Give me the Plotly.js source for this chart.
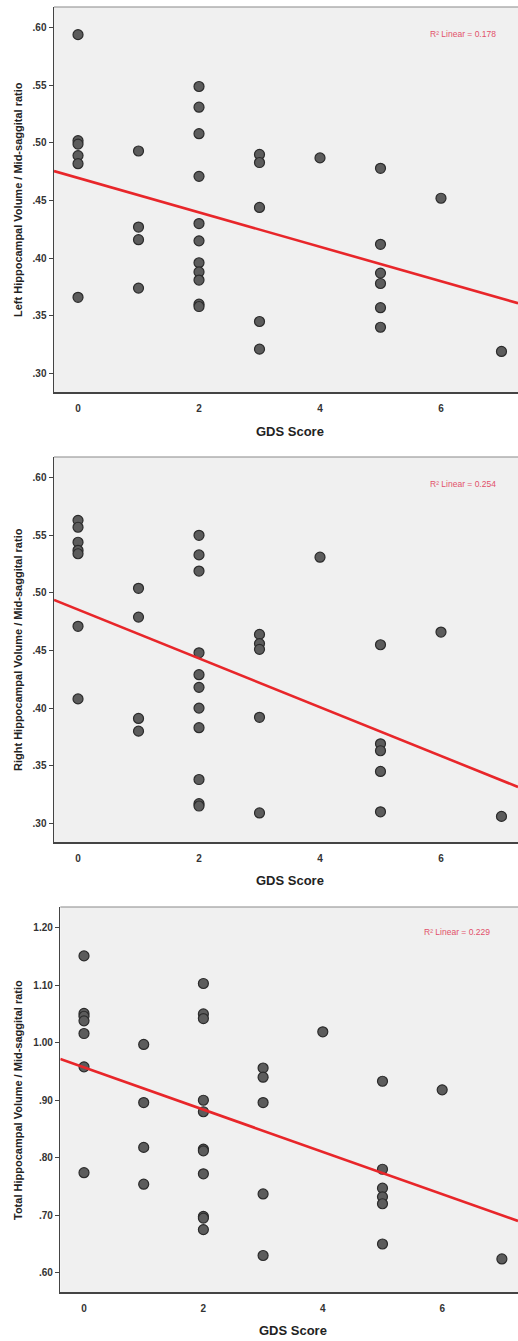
<!DOCTYPE html>
<html>
<head>
<meta charset="utf-8">
<script src="https://cdn.plot.ly/plotly-3.0.1.min.js"></script>
<style>
html,body{margin:0;padding:0;background:#fff;}
#chart{width:518px;height:1341px;}
</style>
</head>
<body>
<div id="chart"></div>
<script>
// GDS scores (x) shared structure
const leftX  = [0,0,0,0,0,0, 1,1,1,1, 2,2,2,2,2,2,2,2,2,2,2, 3,3,3,3,3, 4, 5,5,5,5,5,5, 6, 7];
const leftY  = [0.594,0.502,0.499,0.489,0.482,0.366,
                0.493,0.427,0.416,0.374,
                0.549,0.531,0.508,0.471,0.430,0.415,0.396,0.388,0.381,0.360,0.358,
                0.490,0.483,0.444,0.345,0.321,
                0.487,
                0.478,0.412,0.387,0.378,0.357,0.340,
                0.452,
                0.319];
const rightX = [0,0,0,0,0,0,0, 1,1,1,1, 2,2,2,2,2,2,2,2,2,2,2, 3,3,3,3,3, 4, 5,5,5,5,5, 6, 7];
const rightY = [0.563,0.557,0.544,0.537,0.534,0.471,0.408,
                0.504,0.479,0.391,0.380,
                0.550,0.533,0.519,0.448,0.429,0.418,0.400,0.383,0.338,0.317,0.315,
                0.464,0.456,0.451,0.392,0.309,
                0.531,
                0.455,0.369,0.363,0.345,0.310,
                0.466,
                0.306];
const totalX = [0,0,0,0,0,0,0, 1,1,1,1, 2,2,2,2,2,2,2,2,2,2,2, 3,3,3,3,3, 4, 5,5,5,5,5,5, 6, 7];
const totalY = [1.151,1.051,1.046,1.038,1.016,0.958,0.774,
                0.997,0.896,0.818,0.754,
                1.103,1.050,1.042,0.900,0.880,0.815,0.812,0.772,0.698,0.695,0.675,
                0.956,0.940,0.896,0.737,0.630,
                1.019,
                0.933,0.780,0.747,0.732,0.720,0.650,
                0.918,
                0.624];

const yTitles = ["Left Hippocampal Volume / Mid-saggital ratio",
                 "Right Hippocampal Volume / Mid-saggital ratio",
                 "Total Hippocampal Volume / Mid-saggital ratio"];
const xTitle = "GDS Score";
const r2Labels = ["R² Linear = 0.178", "R² Linear = 0.254", "R² Linear = 0.229"];
const xTickVals = [0,2,4,6];
const xTickText = ["0","2","4","6"];
const yTickValsLR = [0.30,0.35,0.40,0.45,0.50,0.55,0.60];
const yTickTextLR = [".30",".35",".40",".45",".50",".55",".60"];
const yTickValsT = [0.60,0.70,0.80,0.90,1.00,1.10,1.20];
const yTickTextT = [".60",".70",".80",".90","1.00","1.10","1.20"];

function fit(xs, ys){
  const n = xs.length;
  const mx = xs.reduce((a,b)=>a+b,0)/n, my = ys.reduce((a,b)=>a+b,0)/n;
  let sxy=0, sxx=0;
  for(let i=0;i<n;i++){ sxy += (xs[i]-mx)*(ys[i]-my); sxx += (xs[i]-mx)*(xs[i]-mx); }
  const b = sxy/sxx; return {a: my - b*mx, b: b};
}

const W = 518, H = 1341;
const panels = [
  {xs:leftX, ys:leftY, left:54, top:7, bottom:392, xr:[-0.397,7.273], yr:[0.2838,0.618], tv:yTickValsLR, tt:yTickTextLR, tcy:200, gx:290, gy:431, r2x:463, r2y:34},
  {xs:rightX, ys:rightY, left:54, top:457, bottom:842.3, xr:[-0.397,7.273], yr:[0.2835,0.618], tv:yTickValsLR, tt:yTickTextLR, tcy:650, gx:290, gy:880, r2x:463, r2y:484},
  {xs:totalX, ys:totalY, left:60.3, top:907, bottom:1292.3, xr:[-0.397,7.27], yr:[0.566,1.236], tv:yTickValsT, tt:yTickTextT, tcy:1100, gx:293, gy:1330, r2x:457, r2y:932}
];

const data = [], annotations = [], shapes = [];
const layout = {
  width: W, height: H, margin:{l:0,r:0,t:0,b:0},
  paper_bgcolor:'#ffffff', plot_bgcolor:'#f0f0f0',
  showlegend:false, font:{family:'Arial, Liberation Sans, sans-serif', color:'#333'}
};
const tickFont = {family:'Arial, Liberation Sans, sans-serif', size:10, color:'#333', weight:'bold'};

panels.forEach((p,i)=>{
  const k = i===0 ? '' : String(i+1);
  const xa = 'x'+k, ya = 'y'+k;
  data.push({type:'scatter', mode:'markers', x:p.xs, y:p.ys, xaxis:xa, yaxis:ya,
    marker:{size:10, color:'#5c5c5c', line:{color:'#2b2b2b', width:1.2}}, hoverinfo:'skip'});
  const f = fit(p.xs, p.ys);
  data.push({type:'scatter', mode:'lines', x:[p.xr[0], p.xr[1]], y:[f.a+f.b*p.xr[0], f.a+f.b*p.xr[1]],
    xaxis:xa, yaxis:ya, line:{color:'#e8262a', width:2.6}, hoverinfo:'skip'});
  layout['xaxis'+k] = {domain:[p.left/W, 1], range:p.xr, anchor:ya, showgrid:false, zeroline:false,
    showline:true, linecolor:'#444', linewidth:1.5, tickvals:xTickVals, ticktext:xTickText,
    ticks:'', tickfont:tickFont, ticklabelstandoff:6};
  layout['yaxis'+k] = {domain:[1-p.bottom/H, 1-p.top/H], range:p.yr, anchor:xa, showgrid:false, zeroline:false,
    showline:true, linecolor:'#444', linewidth:1.5, tickvals:p.tv, ticktext:p.tt,
    ticks:'outside', ticklen:4, tickwidth:1, tickcolor:'#444', tickfont:tickFont};
  shapes.push({type:'line', xref:xa+' domain', yref:ya+' domain', x0:0, x1:1, y0:1, y1:1,
    line:{color:'#8a8a8a', width:1.2}});
  annotations.push({xref:'paper', yref:'paper', x:18/W, y:1-p.tcy/H, text:yTitles[i], showarrow:false,
    textangle:-90, xanchor:'center', yanchor:'middle',
    font:{family:'Arial, Liberation Sans, sans-serif', size:11, color:'#222', weight:'bold'}});
  annotations.push({xref:'paper', yref:'paper', x:p.gx/W, y:1-p.gy/H, text:xTitle, showarrow:false,
    xanchor:'center', yanchor:'middle',
    font:{family:'Arial, Liberation Sans, sans-serif', size:13, color:'#222', weight:'bold'}});
  annotations.push({xref:'paper', yref:'paper', x:p.r2x/W, y:1-p.r2y/H, text:r2Labels[i], showarrow:false,
    xanchor:'center', yanchor:'middle',
    font:{family:'Arial, Liberation Sans, sans-serif', size:8.5, color:'#e2506a'}});
});
layout.annotations = annotations;
layout.shapes = shapes;
Plotly.newPlot('chart', data, layout, {staticPlot:true, displayModeBar:false});
</script>
</body>
</html>
